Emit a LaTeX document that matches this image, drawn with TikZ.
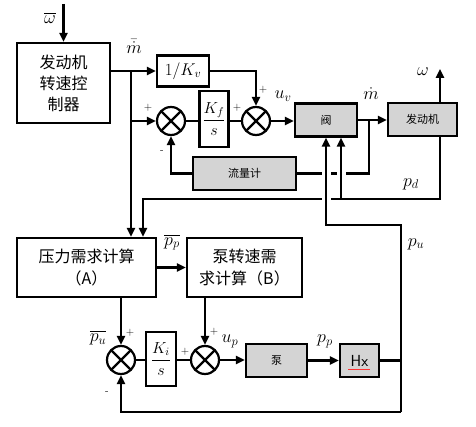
\RequirePackage{fix-cm}
\documentclass[tikz,border=0pt]{standalone}
\usepackage{fontspec}
\usepackage{amsmath}
\newfontfamily\cjk{Noto Sans CJK SC}
\usetikzlibrary{positioning,arrows.meta,calc}

\begin{document}
\begin{tikzpicture}[x=1pt,y=-1pt,line width=2.2pt,>={Triangle[length=9pt,width=8pt]},
    blk/.style={draw,fill=white,inner sep=0pt,align=center},
    grayblk/.style={blk,fill=black!17,font=\cjk\fontsize{11}{13}\selectfont},
    sumnode/.style={draw,circle,minimum size=28pt,inner sep=0pt,
      path picture={\draw[line width=2.2pt]
        (path picture bounding box.north west) -- (path picture bounding box.south east)
        (path picture bounding box.north east) -- (path picture bounding box.south west);}},
    lbl/.style={font=\fontsize{18}{20}\selectfont,inner sep=0pt},
    sgn/.style={font=\fontsize{11}{12}\selectfont,inner sep=0pt},
    gap/.style={white,line width=9pt}]
    \useasboundingbox (0,0) rectangle (476,427);
    % blocks
    \node[blk,minimum width=93pt,minimum height=80pt,font=\cjk\fontsize{16}{21}\selectfont] (ctrl) at (63.5,83) {发动机\\转速控\\制器};
    \node[blk,minimum width=52pt,minimum height=31pt,font=\fontsize{17}{19}\selectfont] (kv) at (183,71) {$1/K_v$};
    \node[sumnode] (s1) at (171,121) {};
    \node[blk,minimum width=29pt,minimum height=56pt,font=\fontsize{16}{18}\selectfont] (kf) at (214,119) {$\dfrac{K_f}{s}$};
    \node[sumnode] (s2) at (256,121) {};
    \node[grayblk,minimum width=62pt,minimum height=33pt] (valve) at (326,120) {阀};
    \node[grayblk,minimum width=69pt,minimum height=33pt] (engine) at (422.5,119.5) {发动机};
    \node[grayblk,minimum width=103pt,minimum height=33pt] (flow) at (244.5,173.5) {流量计};
    \node[blk,minimum width=139pt,minimum height=59pt,font=\cjk\fontsize{16}{22}\selectfont] (pres) at (86.5,267.5) {压力需求计算\\（A）};
    \node[blk,minimum width=115pt,minimum height=59pt,font=\cjk\fontsize{16}{22}\selectfont] (pspd) at (244.5,267.5) {泵转速需\\求计算（B）};
    \node[sumnode] (s3) at (121,360) {};
    \node[blk,minimum width=30pt,minimum height=54pt,font=\fontsize{16}{18}\selectfont] (ki) at (161,359) {$\dfrac{K_i}{s}$};
    \node[sumnode] (s4) at (205,360) {};
    \node[grayblk,minimum width=61pt,minimum height=33pt] (pump) at (276.5,360.5) {泵};
    \node[grayblk,minimum width=39pt,minimum height=33pt,font=\sffamily\fontsize{16}{18}\selectfont] (hx) at (359.5,360.5) {Hx};
    \draw[red!80,line width=0.7pt] (348,369.5) -- (370,369.5);
    % points
    \coordinate (msplit) at (131,71);
    \coordinate (fsplit) at (369,120);
    \coordinate (eout) at ([xshift=17.5pt]engine.south);
    \coordinate (eup) at ([xshift=17.5pt]engine.north);
    \coordinate (vin) at ([xshift=15pt]valve.south);
    \coordinate (pdbend) at (143,199);
    \coordinate (putop) at (401,225);
    \coordinate (pubot) at (401,412);
    % upper loop
    \draw[->] (ctrl.north |- 0,4) -- (ctrl.north);
    \draw[->] (ctrl.east |- kv) -- (kv.west);
    \draw[->] (msplit) -- (msplit |- pres.north);
    \draw[->] (msplit |- s1) -- (s1.west);
    \draw (s1.east) -- (kf.west |- s1) (kf.east |- s2) -- (s2.west);
    \draw[->] (kv.east) -| (s2.north);
    \draw[->] (s2.east) -- (valve.west |- s2);
    \draw[->] (valve.east) -- (engine.west |- valve.east);
    \draw[->] (eup) -- ++(0,-33);
    \draw (fsplit) |- (flow.east);
    \draw[->] (flow.west) -| (s1.south);
    \draw[->] (eout) |- (pdbend) -- (pdbend |- pres.north);
    % crossings
    \draw[gap] ($(vin |- flow)+(0,-6)$) -- ($(vin |- flow)+(0,6)$);
    \draw[gap] ($(valve.south |- flow)+(0,-6)$) -- ($(valve.south |- flow)+(0,6)$);
    \draw[gap] ($(valve.south |- pdbend)+(0,-6)$) -- ($(valve.south |- pdbend)+(0,6)$);
    \draw[->] (vin |- pdbend) -- (vin);
    \draw[->] (pubot) -- (putop) -| (valve.south);
    % lower loop
    \draw[->] (pres.east) -- (pspd.west);
    \draw[->] (s3 |- pres.south) -- (s3.north);
    \draw[->] (s4 |- pspd.south) -- (s4.north);
    \draw (s3.east) -- (ki.west |- s3) (ki.east |- s4) -- (s4.west);
    \draw[->] (s4.east) -- (pump.west |- s4);
    \draw[->] (pump.east) -- (hx.west);
    \draw (hx.east) -- (hx.east -| putop);
    \draw[->] (pubot) -| (s3.south);
    % labels
    \node[lbl] at (50,18) {$\overline{\omega}$};
    \node[lbl] at (134,46) {$\bar{\dot{m}}$};
    \node[lbl] at (283,96) {$u_v$};
    \node[lbl] at (371,94) {$\dot{m}$};
    \node[lbl] at (423,72) {$\omega$};
    \node[lbl] at (411,184) {$p_d$};
    \node[lbl] at (416,244) {$p_u$};
    \node[lbl] at (172,242) {$\overline{p_p}$};
    \node[lbl] at (98,338) {$\overline{p_u}$};
    \node[lbl] at (230,341) {$u_p$};
    \node[lbl] at (325,341) {$p_p$};
    \node[sgn] at (148,108) {+};
    \node[sgn] at (237,108) {+};
    \node[sgn] at (263,90) {+};
    \node[sgn] at (162,152) {-};
    \node[sgn] at (130,333) {+};
    \node[sgn] at (107,393) {-};
    \node[sgn] at (185,352) {+};
    \node[sgn] at (214,332) {+};
\end{tikzpicture}
\end{document}
